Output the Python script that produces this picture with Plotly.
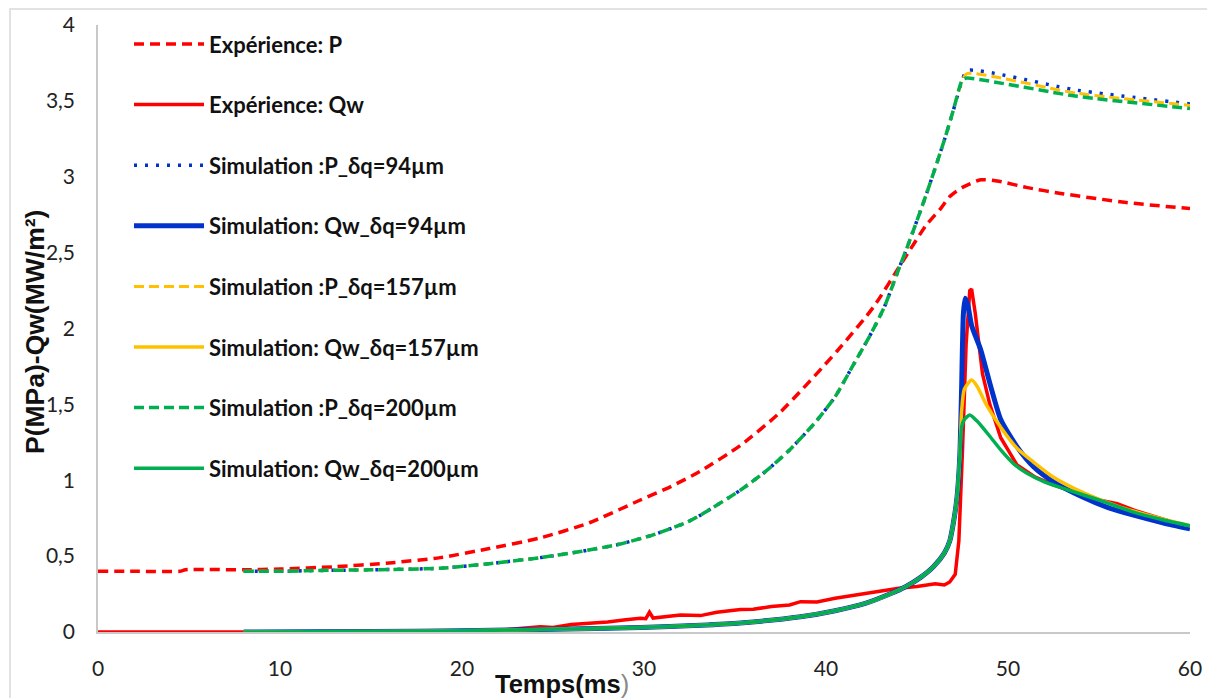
import plotly.graph_objects as go

# ---------------- data ----------------
exp_p_t = [0, 2, 4.5, 4.8, 8, 10, 13, 16, 18.8, 21.5, 24.3, 27, 29.8, 31.5, 33.1, 35.3, 37.5,
           40.6, 42.6, 44.2, 45.5, 46.3, 46.8, 47.5, 48.5, 49.5, 51, 52.9, 56.5, 60]
exp_p_v = [0.40, 0.40, 0.40, 0.41, 0.41, 0.415, 0.43, 0.455, 0.49, 0.55, 0.62, 0.72, 0.87, 0.96,
           1.06, 1.23, 1.45, 1.85, 2.14, 2.44, 2.68, 2.79, 2.87, 2.93, 2.98, 2.97, 2.93, 2.89,
           2.83, 2.79]

exp_q_t = [0, 20, 21, 22, 23, 24.3, 25, 26, 27, 28, 29, 29.8, 30.1, 30.3, 30.5, 31, 32, 33.1,
           34, 35.3, 36, 37, 38, 38.6, 39.5, 40.5, 41.5, 42.2, 43, 44, 45, 46, 46.5, 46.8, 47.1,
           47.3, 47.5, 47.7, 47.9, 48.0, 48.2, 48.6, 49.0, 49.6, 50.5, 51.5, 52.5, 53.2, 54, 55,
           56, 57, 58, 59, 60]
exp_q_v = [0, 0, 0.006, 0.01, 0.022, 0.035, 0.03, 0.05, 0.058, 0.066, 0.08, 0.09, 0.088, 0.13,
           0.092, 0.1, 0.112, 0.108, 0.13, 0.148, 0.15, 0.168, 0.178, 0.2, 0.198, 0.222, 0.24,
           0.258, 0.27, 0.288, 0.3, 0.318, 0.31, 0.33, 0.38, 0.6, 1.2, 1.9, 2.25, 2.26, 2.1, 1.7,
           1.5, 1.28, 1.1, 1.02, 0.97, 0.94, 0.905, 0.87, 0.845, 0.8, 0.765, 0.73, 0.69]

sim_p_rise_t = [8, 10, 12, 15, 18.8, 21.5, 24.3, 26.5, 28.7, 30.5, 32.3, 33.1, 35.3, 36.7, 38,
                39.4, 40.5, 41.5, 42.4, 43.2, 43.9, 44.6, 45.5, 46.5, 47.0, 47.5]
sim_p_rise_v = [0.40, 0.40, 0.405, 0.41, 0.42, 0.45, 0.49, 0.53, 0.58, 0.64, 0.72, 0.77, 0.935,
                1.06, 1.20, 1.38, 1.55, 1.76, 1.95, 2.14, 2.36, 2.58, 2.88, 3.24, 3.44, 3.64]
sim_p_tail_t = [47.75, 53.8, 60]
sim_p94_tail = [3.70, 3.57, 3.48]
sim_p157_tail = [3.68, 3.55, 3.47]
sim_p200_tail = [3.65, 3.53, 3.45]

sim_q_rise_t = [8, 15, 20, 25, 29.8, 33.1, 35.3, 38.6, 40.5, 42.2, 43.5, 44.4, 45.2, 45.9,
                46.5, 46.8, 47.0, 47.2, 47.35]
sim_q_rise_v = [0, 0.003, 0.008, 0.018, 0.03, 0.045, 0.06, 0.10, 0.14, 0.19, 0.25, 0.30, 0.36,
                0.43, 0.52, 0.60, 0.72, 0.89, 1.15]
sim_q94_tail_t = [47.45, 47.55, 47.65, 47.8, 48.0, 48.5, 49.0, 49.6, 50.5, 51.4, 52.5, 54.1,
                  55.5, 56.9, 58.5, 60]
sim_q94_tail_v = [1.6, 2.1, 2.2, 2.15, 2.02, 1.86, 1.64, 1.4, 1.22, 1.09, 0.99, 0.89, 0.82,
                  0.77, 0.72, 0.68]
sim_q157_tail_t = [47.45, 47.6, 48.0, 48.3, 48.8, 49.6, 50.5, 51.4, 52.5, 54.1, 56, 58, 60]
sim_q157_tail_v = [1.45, 1.6, 1.66, 1.62, 1.5, 1.35, 1.21, 1.12, 1.02, 0.92, 0.83, 0.76, 0.70]
sim_q200_tail_t = [47.45, 47.6, 47.9, 48.3, 49.0, 49.6, 50.3, 51.0, 52, 53.2, 55, 56.9, 58.5, 60]
sim_q200_tail_v = [1.35, 1.40, 1.43, 1.39, 1.29, 1.20, 1.11, 1.05, 0.99, 0.94, 0.87, 0.79,
                   0.74, 0.70]

names = ["Expérience: P", "Expérience: Qw", "Simulation :P_δq=94µm", "Simulation: Qw_δq=94µm",
         "Simulation :P_δq=157µm", "Simulation: Qw_δq=157µm", "Simulation :P_δq=200µm",
         "Simulation: Qw_δq=200µm"]

x_ticks = [0, 10, 20, 30, 40, 50, 60]
x_ticktext = ["0", "10", "20", "30", "40", "50", "60"]
y_ticks = [0, 0.5, 1, 1.5, 2, 2.5, 3, 3.5, 4]
y_ticktext = ["0", "0,5", "1", "1,5", "2", "2,5", "3", "3,5", "4"]

RED = "#FF0000"
BLUE = "#0033CC"
YEL = "#FFC000"
GRN = "#00B050"

# plot area in page pixels (page body has an 8px margin)
PX0, PX1, PY0, PY1 = 98, 1190, 25, 632
PW, PH = PX1 - PX0, PY1 - PY0


def px(xp):
    return (xp - PX0) / PW


def py(yp):
    return (PY1 - yp) / PH


# ---------------- figure ----------------
fig = go.Figure()


def add(x, y, name, color, width, dash, gi):
    fig.add_trace(go.Scatter(x=x, y=y, name=name, mode="lines", legendgroup=f"g{gi}",
                             line=dict(color=color, width=width, dash=dash, shape="spline",
                                       smoothing=0.6)))


add(exp_p_t, exp_p_v, names[0], RED, 3.5, "10px,6px", 0)
fig.add_trace(go.Scatter(x=exp_q_t, y=exp_q_v, name=names[1], mode="lines", legendgroup="g1",
                         line=dict(color=RED, width=3.5)))
add(sim_p_rise_t + sim_p_tail_t, sim_p_rise_v + sim_p94_tail, names[2], BLUE, 3.5, "3px,8px", 2)
add(sim_q_rise_t + sim_q94_tail_t, sim_q_rise_v + sim_q94_tail_v, names[3], BLUE, 5, "solid", 3)
add(sim_p_rise_t + sim_p_tail_t, sim_p_rise_v + sim_p157_tail, names[4], YEL, 3, "10px,5px", 4)
add(sim_q_rise_t + sim_q157_tail_t, sim_q_rise_v + sim_q157_tail_v, names[5], YEL, 3.5, "solid", 5)
add(sim_p_rise_t + sim_p_tail_t, sim_p_rise_v + sim_p200_tail, names[6], GRN, 3.5, "10px,5px", 6)
add(sim_q_rise_t + sim_q200_tail_t, sim_q_rise_v + sim_q200_tail_v, names[7], GRN, 3.5, "solid", 7)

W, H = 1207, 690
fig.update_layout(
    width=W, height=H,
    margin=dict(l=PX0 - 8, r=W + 8 - PX1, t=PY0 - 8, b=H + 8 - PY1, autoexpand=False),
    paper_bgcolor="white", plot_bgcolor="white",
    showlegend=True,
    legend=dict(x=px(129), y=1.003, xanchor="left", yanchor="top", bgcolor="rgba(0,0,0,0)",
                font=dict(family="Lato", size=22, color="#111", weight="bold"),
                traceorder="grouped", tracegroupgap=29, itemwidth=70, maxheight=600),
    xaxis=dict(range=[0, 60], tickvals=x_ticks, ticktext=x_ticktext, showgrid=False,
               zeroline=False, showline=True, linecolor="#C8C8C8", linewidth=1.5,
               ticks="", ticklabelstandoff=17,
               tickfont=dict(family="Lato", size=21, color="#222")),
    yaxis=dict(range=[0, 4], tickvals=y_ticks, ticktext=y_ticktext, showgrid=False,
               zeroline=False, showline=True, linecolor="#C8C8C8", linewidth=1.5,
               ticks="", ticklabelstandoff=17,
               tickfont=dict(family="Lato", size=21, color="#222")),
    annotations=[
        dict(text="<b>Temps(ms</b><span style='color:#888'>)</span>", xref="paper", yref="paper",
             x=px(493), y=py(684), xanchor="left", yanchor="middle",
             showarrow=False, font=dict(family="Liberation Sans", size=25.5, color="#111")),
        dict(text="<b>P(MPa)-Qw(MW/m²)</b>", xref="paper", yref="paper",
             x=px(35), y=py(332), xanchor="center", yanchor="middle",
             textangle=-90, showarrow=False,
             font=dict(family="Liberation Sans", size=26.5, color="#111")),
    ],
    shapes=[dict(type="rect", xref="paper", yref="paper",
                 x0=px(10), x1=px(1208), y0=py(730), y1=py(9),
                 line=dict(color="#D9D9D9", width=1.5), fillcolor="rgba(0,0,0,0)", layer="below")],
)

fig.write_html("out.html")
